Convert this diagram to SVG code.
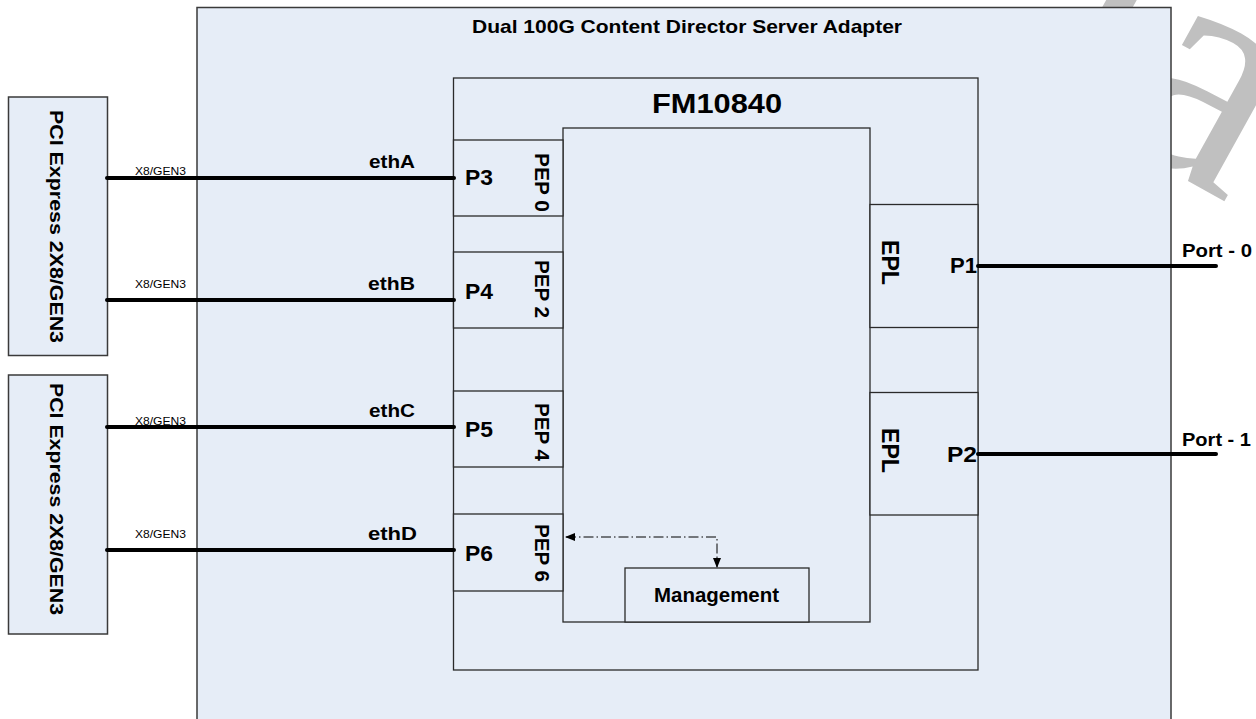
<svg xmlns="http://www.w3.org/2000/svg" width="1256" height="719" viewBox="0 0 1256 719">
<style>
.box{fill:#E6EDF7;stroke:#3a3a3a;stroke-width:1.5}
.sub{fill:#E6EDF7;stroke:#2a2a2a;stroke-width:1.3}
.t{font-family:"Liberation Sans",Arial,sans-serif;font-weight:bold;fill:#000}
.s{font-family:"Liberation Sans",Arial,sans-serif;fill:#000;font-size:11px}
.link{stroke:#000;stroke-width:4;stroke-linecap:round;fill:none}
.mgmt{stroke:#000;stroke-width:1;fill:none;stroke-dasharray:10 3 1.5 3}
.wm{font-family:"Liberation Serif",serif;fill:#C0C0C0}
</style>
<defs>
<marker id="ah" markerWidth="10" markerHeight="8" refX="9" refY="4" orient="auto-start-reverse" markerUnits="userSpaceOnUse">
<path d="M0,0 L10,4 L0,8 Z" fill="#000"/>
</marker>
</defs>
<g id="watermark">
<text class="wm" font-size="330" transform="translate(1020,88) rotate(29)">ia</text>
</g>
<g id="adapter">
<rect class="box" x="197" y="7.5" width="974" height="730"/>
<text class="t" x="472" y="33" font-size="18.5" textLength="430" lengthAdjust="spacingAndGlyphs">Dual 100G Content Director Server Adapter</text>
</g>
<g id="pci1">
<rect class="box" x="8.5" y="97" width="99" height="258.5"/>
<text class="t" font-size="18" transform="translate(50,110) rotate(90)" textLength="233" lengthAdjust="spacingAndGlyphs">PCI Express  2X8/GEN3</text>
</g>
<g id="pci2">
<rect class="box" x="8.5" y="375" width="99" height="259"/>
<text class="t" font-size="18" transform="translate(50,383) rotate(90)" textLength="232" lengthAdjust="spacingAndGlyphs">PCI Express  2X8/GEN3</text>
</g>
<g id="fm10840">
<rect class="sub" x="453.5" y="78" width="524.5" height="592"/>
<text class="t" x="652" y="113" font-size="28" textLength="130" lengthAdjust="spacingAndGlyphs">FM10840</text>
<rect class="sub" x="563" y="128" width="307" height="494"/>
</g>
<g id="pep0">
<rect class="sub" x="453.5" y="140" width="109.5" height="76"/>
<text class="t" x="465" y="185" font-size="22" textLength="28" lengthAdjust="spacingAndGlyphs">P3</text>
<text class="t" font-size="21" transform="translate(535,153) rotate(90)" textLength="59" lengthAdjust="spacingAndGlyphs">PEP 0</text>
</g>
<g id="pep2">
<rect class="sub" x="453.5" y="252" width="109.5" height="76"/>
<text class="t" x="465" y="299" font-size="22" textLength="28" lengthAdjust="spacingAndGlyphs">P4</text>
<text class="t" font-size="21" transform="translate(535,260) rotate(90)" textLength="58" lengthAdjust="spacingAndGlyphs">PEP 2</text>
</g>
<g id="pep4">
<rect class="sub" x="453.5" y="391" width="109.5" height="76"/>
<text class="t" x="465" y="437" font-size="22" textLength="28" lengthAdjust="spacingAndGlyphs">P5</text>
<text class="t" font-size="21" transform="translate(535,403) rotate(90)" textLength="58" lengthAdjust="spacingAndGlyphs">PEP 4</text>
</g>
<g id="pep6">
<rect class="sub" x="453.5" y="514" width="109.5" height="77"/>
<text class="t" x="465" y="561" font-size="22" textLength="28" lengthAdjust="spacingAndGlyphs">P6</text>
<text class="t" font-size="21" transform="translate(535,524) rotate(90)" textLength="58" lengthAdjust="spacingAndGlyphs">PEP 6</text>
</g>
<g id="epl0">
<rect class="sub" x="870" y="204.5" width="108" height="123"/>
<text class="t" font-size="23" transform="translate(882,240) rotate(90)" textLength="45" lengthAdjust="spacingAndGlyphs">EPL</text>
<text class="t" x="950" y="273" font-size="22" textLength="27" lengthAdjust="spacingAndGlyphs">P1</text>
</g>
<g id="epl1">
<rect class="sub" x="870" y="392.5" width="108" height="122.5"/>
<text class="t" font-size="23" transform="translate(882,428) rotate(90)" textLength="45" lengthAdjust="spacingAndGlyphs">EPL</text>
<text class="t" x="947" y="462" font-size="22" textLength="30" lengthAdjust="spacingAndGlyphs">P2</text>
</g>
<g id="management">
<rect class="sub" x="625" y="568" width="184" height="54"/>
<text class="t" x="654" y="602" font-size="19.5" textLength="125" lengthAdjust="spacingAndGlyphs">Management</text>
</g>
<g id="connectors">
<text class="s" x="135" y="175" textLength="51" lengthAdjust="spacingAndGlyphs">X8/GEN3</text>
<text class="s" x="135" y="288" textLength="51" lengthAdjust="spacingAndGlyphs">X8/GEN3</text>
<text class="s" x="135" y="425" textLength="51" lengthAdjust="spacingAndGlyphs">X8/GEN3</text>
<text class="s" x="135" y="538" textLength="51" lengthAdjust="spacingAndGlyphs">X8/GEN3</text>
<line class="link" x1="107" y1="178" x2="454" y2="178"/>
<line class="link" x1="107" y1="300" x2="454" y2="300"/>
<line class="link" x1="107" y1="427" x2="454" y2="427"/>
<line class="link" x1="107" y1="550" x2="454" y2="550"/>
<text class="t" x="369" y="168" font-size="18.5" textLength="46" lengthAdjust="spacingAndGlyphs">ethA</text>
<text class="t" x="368" y="290" font-size="18.5" textLength="47" lengthAdjust="spacingAndGlyphs">ethB</text>
<text class="t" x="369" y="417" font-size="18.5" textLength="46" lengthAdjust="spacingAndGlyphs">ethC</text>
<text class="t" x="368" y="540" font-size="18.5" textLength="49" lengthAdjust="spacingAndGlyphs">ethD</text>
<line class="link" x1="978" y1="266" x2="1216" y2="266"/>
<line class="link" x1="978" y1="454" x2="1216" y2="454"/>
<text class="t" x="1182" y="257" font-size="18.5" textLength="70" lengthAdjust="spacingAndGlyphs">Port - 0</text>
<text class="t" x="1182" y="446" font-size="18.5" textLength="69" lengthAdjust="spacingAndGlyphs">Port - 1</text>
<path class="mgmt" d="M566,537 H717 V567" marker-start="url(#ah)" marker-end="url(#ah)"/>
</g>
</svg>
